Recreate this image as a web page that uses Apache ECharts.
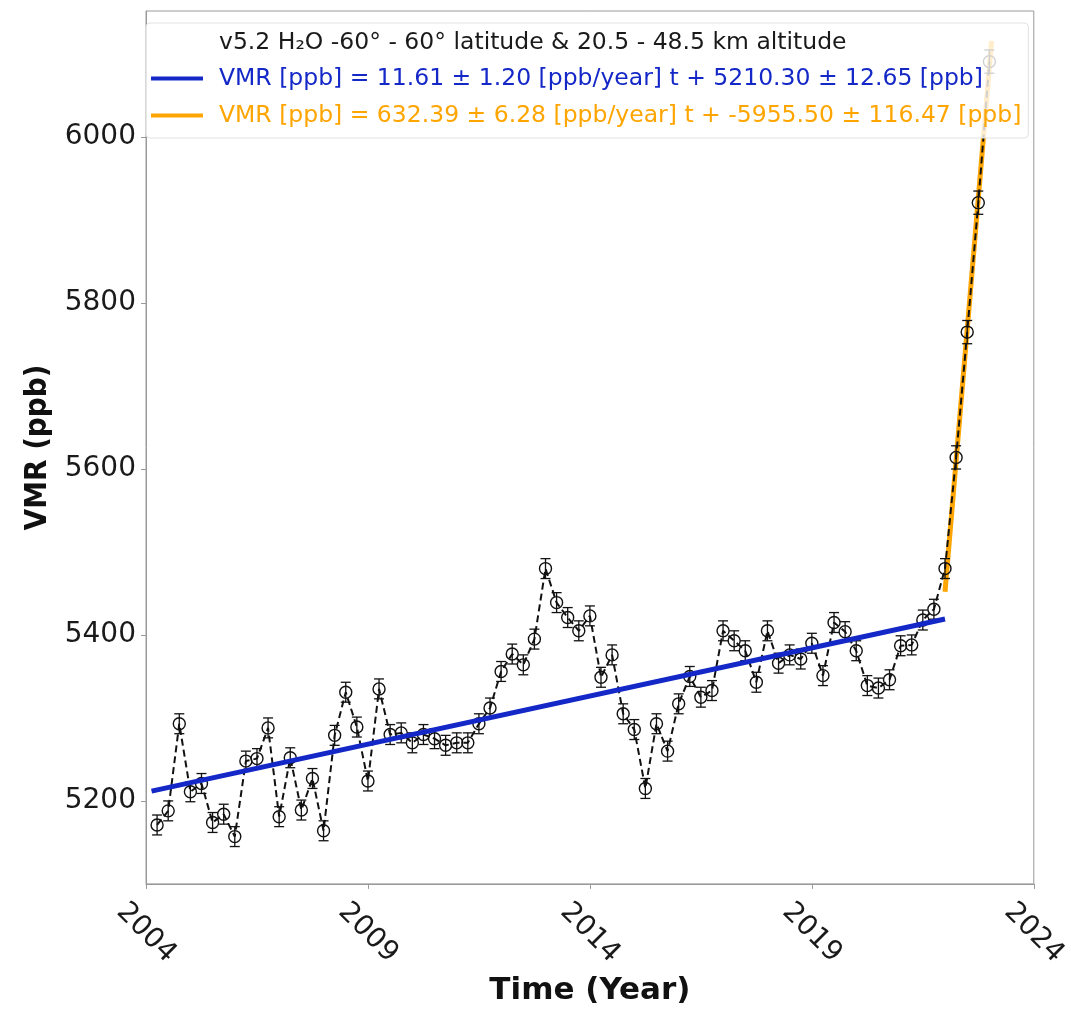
<!DOCTYPE html>
<html>
<head>
<meta charset="utf-8">
<script src="https://cdn.jsdelivr.net/npm/echarts@6/dist/echarts.min.js"></script>
<style>
html,body{margin:0;padding:0;background:#fff;overflow:hidden;}
#chart{width:1071px;height:1011px;}
</style>
</head>
<body>
<div id="chart"></div>
<script>
// ---- data ----
var times = [
  2004.25, 2004.50, 2004.75, 2005.00, 2005.25, 2005.50, 2005.75, 2006.00,
  2006.25, 2006.50, 2006.75, 2007.00, 2007.25, 2007.50, 2007.75, 2008.00,
  2008.25, 2008.50, 2008.75, 2009.00, 2009.25, 2009.50, 2009.75, 2010.00,
  2010.25, 2010.50, 2010.75, 2011.00, 2011.25, 2011.50, 2011.75, 2012.00,
  2012.25, 2012.50, 2012.75, 2013.00, 2013.25, 2013.50, 2013.75, 2014.00,
  2014.25, 2014.50, 2014.75, 2015.00, 2015.25, 2015.50, 2015.75, 2016.00,
  2016.25, 2016.50, 2016.75, 2017.00, 2017.25, 2017.50, 2017.75, 2018.00,
  2018.25, 2018.50, 2018.75, 2019.00, 2019.25, 2019.50, 2019.75, 2020.00,
  2020.25, 2020.50, 2020.75, 2021.00, 2021.25, 2021.50, 2021.75, 2022.00,
  2022.25, 2022.50, 2022.75, 2023.00
];
var vmr = [
  5171, 5188, 5293, 5211, 5221, 5174, 5184, 5157,
  5248, 5251, 5288, 5181, 5252, 5189, 5227, 5164,
  5279, 5331, 5289, 5224, 5335, 5280, 5282, 5270,
  5280, 5275, 5267, 5270, 5270, 5293, 5312, 5356,
  5377, 5364, 5395, 5480, 5439, 5421, 5405, 5423,
  5349, 5376, 5305, 5286, 5215, 5293, 5260, 5317,
  5350, 5325, 5333, 5405, 5393, 5381, 5343, 5405,
  5366, 5376, 5371, 5390, 5351, 5415, 5404, 5381,
  5339, 5336, 5346, 5387, 5388, 5418, 5431, 5480,
  5614, 5765, 5921, 6091
];
var vmrErr = [
  12, 12, 12, 12, 12, 12, 12, 12,
  12, 12, 12, 12, 12, 12, 12, 12,
  12, 12, 12, 12, 12, 12, 12, 12,
  12, 12, 12, 12, 12, 12, 12, 12,
  12, 12, 12, 12, 12, 12, 12, 12,
  12, 12, 12, 12, 12, 12, 12, 12,
  12, 12, 12, 12, 12, 12, 12, 12,
  12, 12, 12, 12, 12, 12, 12, 12,
  12, 12, 12, 12, 12, 12, 12, 12,
  14, 14, 14, 14
];
var blueFitX = [2004.125, 2022.0];
var blueFitY = [5211.8, 5419.3];
var orangeFitX = [2022.0, 2023.05];
var orangeFitY = [5452, 6116];
var xTicks = [2004, 2009, 2014, 2019, 2024];
var yTicks = [5200, 5400, 5600, 5800, 6000];
var legendTitle = 'v5.2 H\u2082O -60\u00b0 - 60\u00b0 latitude & 20.5 - 48.5 km altitude';
var blueName = 'VMR [ppb] = 11.61 \u00b1 1.20 [ppb/year] t + 5210.30 \u00b1 12.65 [ppb]';
var orangeName = 'VMR [ppb] = 632.39 \u00b1 6.28 [ppb/year] t + -5955.50 \u00b1 116.47 [ppb]';

// ---- build ----
var BLUE = '#1428c8', ORANGE = '#ffa500';
var pts = times.map(function(t, i){ return [t, vmr[i]]; });
var errs = times.map(function(t, i){ return [t, vmr[i], vmrErr[i]]; });
var blueLine = blueFitX.map(function(x, i){ return [x, blueFitY[i]]; });
var orangeLine = orangeFitX.map(function(x, i){ return [x, orangeFitY[i]]; });

var chart = echarts.init(document.getElementById('chart'));
var condensed = '"DejaVu Sans Condensed", "DejaVu Sans", sans-serif';
var normal = '"DejaVu Sans", sans-serif';
function plain(v){ return String(v); }
var option = {
  animation: false,
  backgroundColor: '#fff',
  grid: {left: 146, top: 11, right: 34, bottom: 116, show: true, borderColor: '#9a9a9a', borderWidth: 1, containLabel: false},
  xAxis: {
    type: 'value', min: 2004, max: 2024,
    name: 'Time (Year)', nameLocation: 'middle', nameGap: 88,
    nameTextStyle: {fontFamily: normal, fontWeight: 'bold', fontSize: 31, color: '#111', verticalAlign: 'top'},
    axisLine: {show: true, lineStyle: {color: '#9a9a9a', width: 1}},
    axisTick: {show: true, inside: false, length: 5, lineStyle: {color: '#9a9a9a'}, customValues: xTicks},
    axisLabel: {customValues: xTicks, formatter: plain, rotate: -45, align: 'center', verticalAlign: 'middle', margin: 49,
      fontFamily: normal, fontSize: 28, color: '#1a1a1a'},
    splitLine: {show: false}
  },
  yAxis: {
    type: 'value', min: 5100, max: 6152,
    name: 'VMR (ppb)', nameLocation: 'middle', nameGap: 85,
    nameTextStyle: {fontFamily: condensed, fontWeight: 'bold', fontSize: 31, color: '#111'},
    axisLine: {show: true, lineStyle: {color: '#9a9a9a', width: 1}},
    axisTick: {show: true, inside: false, length: 5, lineStyle: {color: '#9a9a9a'}, customValues: yTicks},
    axisLabel: {customValues: yTicks, formatter: plain, margin: 10, fontFamily: normal, fontSize: 28, color: '#1a1a1a'},
    splitLine: {show: false}
  },
  legend: {
    orient: 'vertical', left: 146, top: 23, z: 20,
    padding: [42, 7, 9, 5],
    itemWidth: 52, itemHeight: 4, itemGap: 10,
    icon: 'rect',
    backgroundColor: 'rgba(255,255,255,0.8)',
    borderColor: '#e2e2e2', borderWidth: 1, borderRadius: 4,
    textStyle: {fontFamily: normal, fontSize: 23.5, lineHeight: 27, padding: [0, 0, 0, 11]},
    data: [
      {name: blueName, textStyle: {color: BLUE}},
      {name: orangeName, textStyle: {color: ORANGE}}
    ],
    selectedMode: false
  },
  graphic: {
    z: 30,
    elements: [{
      type: 'text', left: 219, top: 31, z: 100,
      style: {text: legendTitle, fontFamily: normal, fontSize: 23.5, fill: '#1a1a1a'}
    }]
  },
  series: [
    {
      name: orangeName, type: 'line', data: orangeLine, symbol: 'none', z: 2,
      lineStyle: {color: ORANGE, width: 5}, itemStyle: {color: ORANGE}
    },
    {
      name: 'errors', type: 'custom', data: errs, z: 3,
      renderItem: function(params, api){
        var x = api.value(0), y = api.value(1), e = api.value(2);
        var p1 = api.coord([x, y - e]);
        var p2 = api.coord([x, y + e]);
        var cw = 5;
        var st = {stroke: '#111', lineWidth: 1.3, fill: null};
        return {type: 'group', children: [
          {type: 'line', shape: {x1: p1[0], y1: p1[1], x2: p2[0], y2: p2[1]}, style: st},
          {type: 'line', shape: {x1: p1[0]-cw, y1: p1[1], x2: p1[0]+cw, y2: p1[1]}, style: st},
          {type: 'line', shape: {x1: p2[0]-cw, y1: p2[1], x2: p2[0]+cw, y2: p2[1]}, style: st}
        ]};
      }
    },
    {
      name: 'data', type: 'line', data: pts, z: 4,
      symbol: 'circle', symbolSize: 12,
      itemStyle: {color: 'rgba(0,0,0,0)', borderColor: '#111', borderWidth: 1.4},
      lineStyle: {color: '#111', width: 2, type: [7, 4]}
    },
    {
      name: blueName, type: 'line', data: blueLine, symbol: 'none', z: 5,
      lineStyle: {color: BLUE, width: 5}, itemStyle: {color: BLUE}
    }
  ]
};
chart.setOption(option);
</script>
</body>
</html>
